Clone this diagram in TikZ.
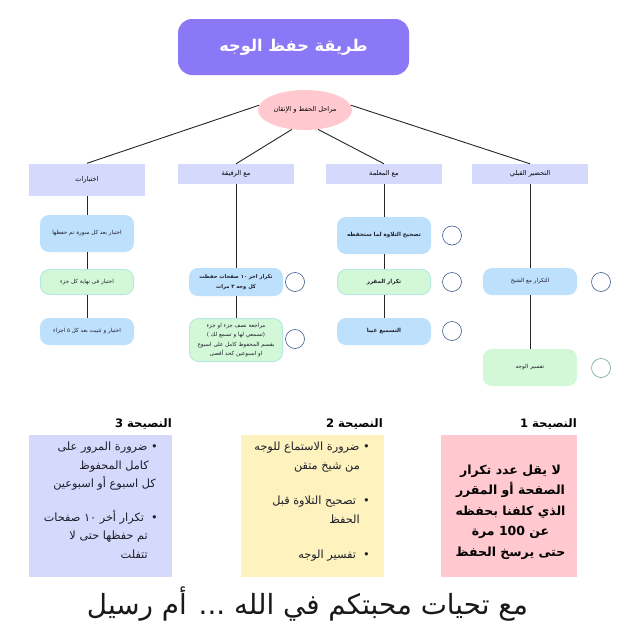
\documentclass[tikz,border=0pt]{standalone}
\usepackage{fontspec}
\usetikzlibrary{shapes.geometric}
\TeXXeTstate=1
\newfontfamily\arabicfont[Script=Arabic]{DejaVu Sans}
\newcommand{\arb}[1]{\beginR #1\endR}
\definecolor{titlec}{HTML}{8B78F6}
\definecolor{pinkc}{HTML}{FFC9CF}
\definecolor{lavc}{HTML}{D5D9FB}
\definecolor{bluec}{HTML}{BDE0FD}
\definecolor{greenc}{HTML}{D3F8D8}
\definecolor{tealc}{HTML}{B8E8E2}
\definecolor{yellc}{HTML}{FEF2BF}
\definecolor{inkc}{HTML}{1E1E2A}
\definecolor{ringc}{HTML}{3A5A8C}
\definecolor{ringg}{HTML}{6F9F96}
\tikzset{
 base/.style={font=\arabicfont\fontsize{5.6}{9.2}\selectfont,text=inkc,inner sep=0pt,align=center},
 headfont/.style={font=\arabicfont\fontsize{6.6}{8}\selectfont,text=black},
 headbox/.style={base,headfont,rectangle,fill=lavc,minimum width=116pt,minimum height=20pt},
 bluebox/.style={base,rectangle,rounded corners=9pt,fill=bluec,minimum width=94pt},
 greenbox/.style={base,rectangle,rounded corners=9pt,fill=greenc,draw=tealc,line width=1pt,minimum width=93pt},
 ring/.style={circle,draw=ringc,line width=0.6pt,minimum size=19pt,inner sep=0pt},
 link/.style={draw=black!85,line width=0.9pt},
 tipbox/.style={rectangle,minimum height=142pt,inner sep=0pt},
 tiphead/.style={base,font=\arabicfont\bfseries\fontsize{11.6}{13}\selectfont,text=black,anchor=east},
 tiptext/.style={base,font=\arabicfont\fontsize{11.3}{18.5}\selectfont,align=right,anchor=north east},
}
\begin{document}
\begin{tikzpicture}[x=1pt,y=-1pt]
\useasboundingbox (0,0) rectangle (640,640);
\fill[white] (0,0) rectangle (640,640);
% title
\node[rectangle,rounded corners=14pt,fill=titlec,minimum width=231pt,minimum height=56pt,inner sep=0pt,text=white,font=\arabicfont\bfseries\fontsize{16.2}{20}\selectfont] (title) at (293.5,47) {\arb{طريقة حفظ الوجه}};
\node[base,headfont,ellipse,fill=pinkc,minimum width=94pt,minimum height=40pt] (root) at (305,110) {\arb{مراحل الحفظ و الإتقان}};
% headers
\node[headbox,minimum height=32pt] (hA) at (87,179.5) {\arb{اختبارات}};
\node[headbox] (hB) at (236,174) {\arb{مع الرفيقة}};
\node[headbox] (hC) at (384,174) {\arb{مع المعلمة}};
\node[headbox] (hD) at (530,174) {\arb{التحضير القبلي}};
% column A
\node[bluebox,minimum height=37pt] (a1) at (87,233.5) {\arb{اختبار بعد كل سورة تم حفظها}};
\node[greenbox,minimum height=25pt] (a2) at (87,282) {\arb{اختبار فى نهاية كل جزء}};
\node[bluebox,minimum height=27pt] (a3) at (87,331.5) {\arb{اختبار و تثبيت بعد كل ٥ اجزاء}};
% column B
\node[bluebox,minimum height=28pt,font=\arabicfont\fontsize{5.2}{10}\selectfont] (b1) at (236,282) {\arb{\bfseries تكرار اخر ١٠ صفحات حفظت}\\\arb{\bfseries كل وجه ٣ مرات}};
\node[greenbox,minimum height=43pt] (b2) at (236,340) {\arb{مراجعة نصف جزء او جزء}\\\arb{(تسمعي لها و تسمع لك )}\\\arb{بقسم المحفوظ كامل على اسبوع}\\\arb{او اسبوعين كحد أقصى}};
% column C
\node[bluebox,minimum height=37pt] (c1) at (384,235.5) {\arb{\bfseries تصحيح التلاوة لما ستحفظه}};
\node[greenbox,minimum height=25pt] (c2) at (384,282) {\arb{\bfseries تكرار المقرر}};
\node[bluebox,minimum height=27pt] (c3) at (384,331.5) {\arb{\bfseries التسميع غيبا}};
% column D
\node[bluebox,minimum height=27pt] (d1) at (530,281.5) {\arb{التكرار مع الشيخ}};
\node[base,rectangle,rounded corners=9pt,fill=greenc,minimum width=94pt,minimum height=37pt] (d2) at (530,367.5) {\arb{تفسير الوجه}};
% rings
\node[ring] (rb1) at (295,282) {};
\node[ring] (rb2) at (295,339) {};
\node[ring] (rc1) at (452,235.5) {};
\node[ring] (rc2) at (452,282) {};
\node[ring] (rc3) at (452,331) {};
\node[ring] (rd1) at (601,282) {};
\node[ring,draw=ringg] (rd2) at (601,368) {};
% connectors
\draw[link] (root.174) -- (hA.north);
\draw[link] (root.236) -- (hB.north);
\draw[link] (root.304) -- (hC.north);
\draw[link] (root.6) -- (hD.north);
\draw[link] (hA.south) -- (a1.north);
\draw[link] (a1.south) -- (a2.north);
\draw[link] (a2.south) -- (a3.north);
\draw[link] (hB.south) -- (b1.north);
\draw[link] (b1.south) -- (b2.north);
\draw[link] (hC.south) -- (c1.north);
\draw[link] (c1.south) -- (c2.north);
\draw[link] (c2.south) -- (c3.north);
\draw[link] (hD.south) -- (d1.north);
\draw[link] (d1.south) -- (d2.north);
% tips
\node[tipbox,fill=lavc,minimum width=143pt] (t3) at (100.5,506) {};
\node[tipbox,fill=yellc,minimum width=143pt] (t2) at (312.5,506) {};
\node[tipbox,fill=pinkc,minimum width=136pt] (t1) at (509,506) {};
\node[tiphead] (h3) at (172,424.5) {\arb{النصيحة \beginL 3\endL}};
\node[tiphead] (h2) at (383,424.5) {\arb{النصيحة \beginL 2\endL}};
\node[tiphead] (h1) at (577,424.5) {\arb{النصيحة \beginL 1\endL}};
\node[tiptext] (t3a) at (158,442) {\arb{•\ ضرورة المرور على}\\\arb{كامل المحفوظ}\kern9pt\\\arb{كل اسبوع أو اسبوعين}\kern2pt};
\node[tiptext] (t3b) at (158,510) {\arb{•\ \ تكرار أخر ١٠ صفحات}\\\arb{تم حفظها حتى لا}\kern10pt\\\arb{تتفلت}\kern10pt};
\node[tiptext] (t2a) at (370,442) {\arb{•\ ضرورة الاستماع للوجه}\\\arb{من شيخ متقن}\kern10pt};
\node[tiptext] (t2b) at (370,496) {\arb{•\ \ تصحيح التلاوة قبل}\\\arb{الحفظ}\kern10pt};
\node[tiptext] (t2c) at (370,550) {\arb{•\ \ تفسير الوجه}};
\node[base,font=\arabicfont\bfseries\fontsize{12.5}{20.6}\selectfont,text=black] (t1a) at (510.5,512) {\arb{لا يقل عدد تكرار}\\\arb{الصفحة أو المقرر}\\\arb{الذي كلفنا بحفظه}\\\arb{عن \beginL 100\endL{} مرة}\\\arb{حتى يرسخ الحفظ}};
\node[base,font=\arabicfont\fontsize{27.8}{32}\selectfont,text=black!90] (foot) at (307.5,604) {\arb{مع تحيات محبتكم في الله ... أم رسيل}};
\end{tikzpicture}
\end{document}
